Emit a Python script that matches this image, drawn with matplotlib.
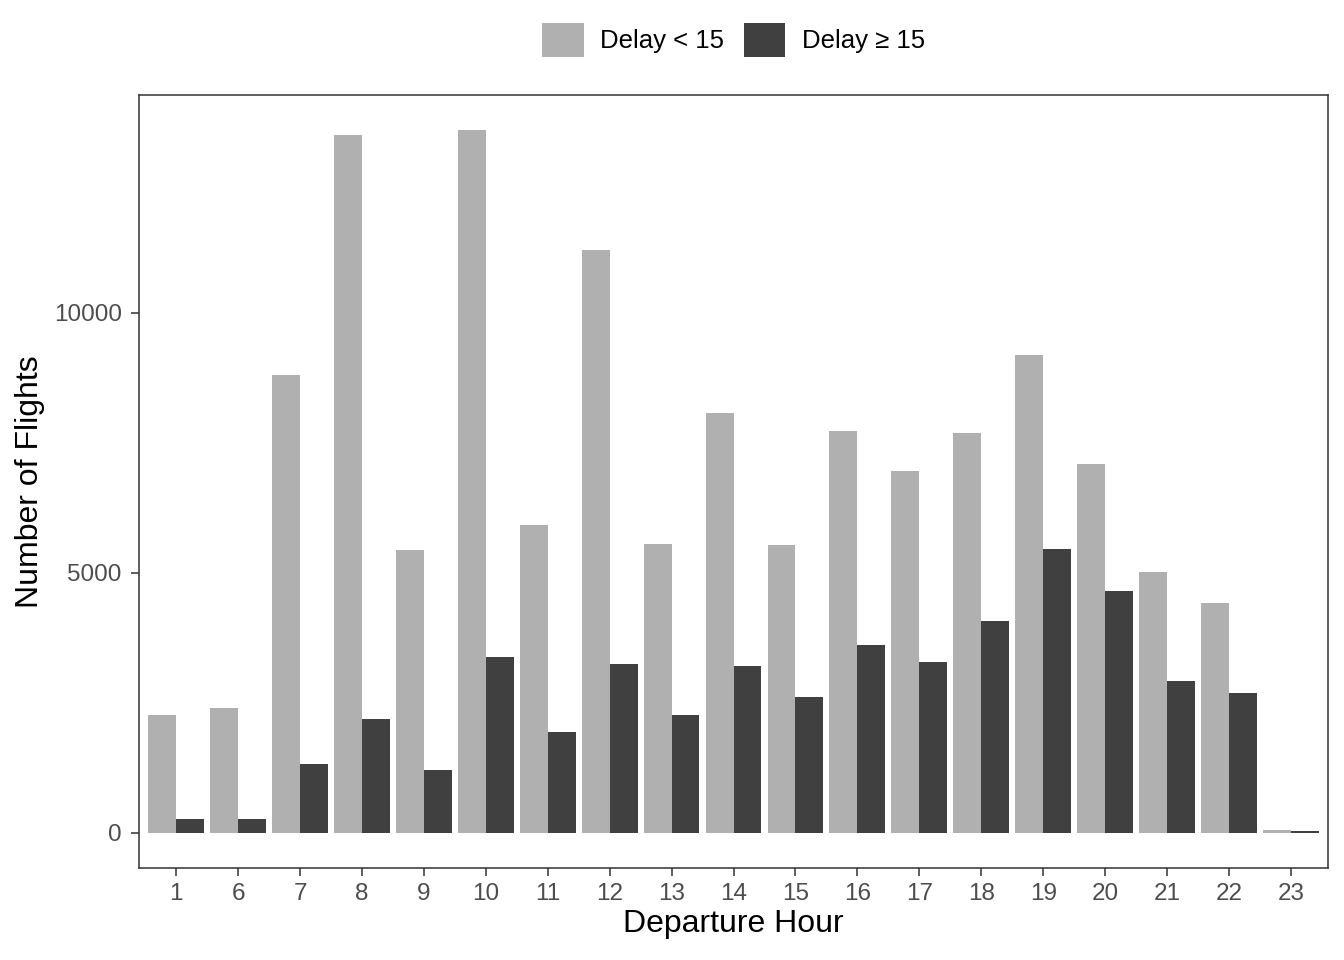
import numpy as np
import matplotlib
matplotlib.use("Agg")
import matplotlib.pyplot as plt
from matplotlib.patches import Patch

# departure hours and flight counts
hours = ["1", "6", "7", "8", "9", "10", "11", "12", "13", "14", "15",
         "16", "17", "18", "19", "20", "21", "22", "23"]
on_time = [2264, 2399, 8808, 13414, 5431, 13510, 5911, 11207, 5546, 8079,
           5527, 7734, 6966, 7695, 9192, 7100, 5009, 4414, 60]
delayed = [269, 269, 1324, 2188, 1209, 3377, 1938, 3243, 2264, 3205,
           2610, 3608, 3281, 4068, 5450, 4644, 2917, 2687, 35]
labels = ["Delay < 15", "Delay \u2265 15"]
colors = ["#B0B0B0", "#404040"]

plt.rcParams["font.family"] = ["Liberation Sans", "DejaVu Sans"]

fig = plt.figure(figsize=(13.44, 9.6), dpi=100)
left, right, top, bottom = 139, 1328, 95, 868
ax = fig.add_axes([left / 1344, (960 - bottom) / 960,
                   (right - left) / 1344, (bottom - top) / 960])

x = np.arange(len(hours))
w = 0.45
ax.bar(x - w / 2, on_time, width=w, color=colors[0], linewidth=0)
ax.bar(x + w / 2, delayed, width=w, color=colors[1], linewidth=0)

ymax = max(max(on_time), max(delayed))
ax.set_xlim(-0.6, len(hours) - 1 + 0.6)
ax.set_ylim(-0.05 * ymax, ymax * 1.05)

ax.set_xticks(x)
ax.set_xticklabels(hours)
ax.set_yticks([0, 5000, 10000])
ax.tick_params(axis="both", length=5.5, width=1.1, color="#333333",
               labelsize=17.5, labelcolor="#4D4D4D")
ax.tick_params(axis="x", pad=5)
ax.tick_params(axis="y", pad=7)

for sp in ax.spines.values():
    sp.set_color("#333333")
    sp.set_linewidth(1.1)

ax.set_xlabel("Departure Hour", fontsize=23, labelpad=3)
ax.set_ylabel("Number of Flights", fontsize=23, labelpad=6)

handles = [Patch(facecolor=c, edgecolor="none") for c in colors]
fig.legend(handles, labels, loc="center",
           bbox_to_anchor=((left + right) / 2 / 1344, 1 - 40 / 960),
           ncol=2, frameon=False, fontsize=18.5, handlelength=1.62,
           handleheight=1.62, handletextpad=0.65, columnspacing=0.75)

fig.savefig("out.png", dpi=100)
